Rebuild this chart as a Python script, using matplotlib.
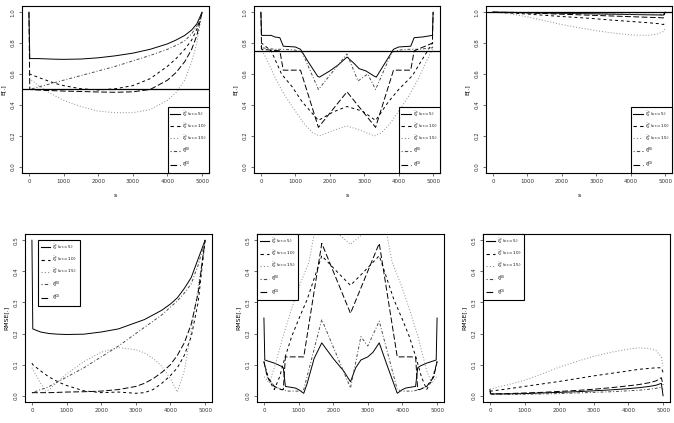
import matplotlib
matplotlib.use("Agg")
import matplotlib.pyplot as plt
from matplotlib.lines import Line2D

# ---------------- data ----------------
labels = [r"$\hat{\xi}^{s}_{t}$ ($\nu_s=5$)", r"$\hat{\xi}^{s}_{t}$ ($\nu_s=10$)",
          r"$\hat{\xi}^{s}_{t}$ ($\nu_s=15$)", r"$\xi^{RU}_{t}$", r"$\xi^{KU}_{t}$"]

# panel 1 : E[.] , reference 0.5
s1 = [0, 25, 250, 500, 750, 1000, 1500, 2000, 2500, 3000, 3500, 4000, 4250, 4500, 4700, 4850, 5000]
e1_nu5 = [1.0, 0.70, 0.70, 0.698, 0.696, 0.695, 0.697, 0.705, 0.718, 0.735, 0.76, 0.795, 0.82, 0.85, 0.885, 0.925, 1.0]
e1_nu10 = [0.60, 0.60, 0.58, 0.56, 0.54, 0.525, 0.505, 0.497, 0.505, 0.525, 0.57, 0.65, 0.70, 0.76, 0.82, 0.89, 1.0]
e1_nu15 = [0.57, 0.57, 0.53, 0.49, 0.46, 0.43, 0.39, 0.36, 0.35, 0.35, 0.37, 0.43, 0.48, 0.56, 0.68, 0.80, 1.0]
e1_ru = [0.50, 0.50, 0.515, 0.53, 0.545, 0.56, 0.59, 0.62, 0.65, 0.685, 0.72, 0.76, 0.785, 0.815, 0.86, 0.91, 1.0]
e1_ku = [1.0, 0.50, 0.497, 0.494, 0.492, 0.49, 0.487, 0.484, 0.482, 0.485, 0.50, 0.56, 0.61, 0.68, 0.76, 0.85, 1.0]
ref1 = 0.5

# panel 2 : E[.] , reference 0.75
s2_nu5 = [0, 20, 300, 400, 550, 650, 1000, 1150, 1400, 1650, 1700, 2000, 2250, 2500, 2700, 2850, 3050,
          3300, 3350, 3600, 3850, 4000, 4350, 4450, 4700, 4980, 5000]
e2_nu5 = [1.0, 0.85, 0.85, 0.84, 0.835, 0.78, 0.775, 0.76, 0.67, 0.585, 0.58, 0.62, 0.66, 0.71, 0.67, 0.635,
          0.62, 0.585, 0.58, 0.67, 0.76, 0.775, 0.78, 0.835, 0.84, 0.85, 1.0]
s2_nu10 = [0, 20, 300, 600, 900, 1200, 1670, 2100, 2500, 2800, 2950, 3330, 3700, 4000, 4400, 4700, 4980, 5000]
e2_nu10 = [0.80, 0.80, 0.75, 0.60, 0.52, 0.42, 0.30, 0.355, 0.39, 0.37, 0.36, 0.30, 0.42, 0.50, 0.59, 0.70, 0.80, 0.80]
s2_nu15 = [0, 20, 200, 450, 700, 1000, 1250, 1500, 1700, 2100, 2500, 2900, 3300, 3500, 3750, 4000, 4300, 4550, 4800, 4980, 5000]
e2_nu15 = [0.77, 0.76, 0.68, 0.56, 0.46, 0.36, 0.28, 0.22, 0.20, 0.235, 0.265, 0.235, 0.20, 0.22, 0.28, 0.36, 0.46, 0.56, 0.68, 0.76, 0.77]
s2_ru = [0, 20, 400, 700, 1000, 1200, 1670, 2500, 2820, 3100, 3330, 3800, 4000, 4300, 4600, 4980, 5000]
e2_ru = [0.78, 0.77, 0.76, 0.76, 0.755, 0.74, 0.50, 0.73, 0.555, 0.60, 0.50, 0.74, 0.755, 0.76, 0.76, 0.77, 0.78]
s2_ku = [0, 20, 550, 650, 1150, 1670, 2500, 3330, 3850, 4350, 4450, 4980, 5000]
e2_ku = [1.0, 0.76, 0.75, 0.625, 0.625, 0.255, 0.485, 0.255, 0.625, 0.625, 0.75, 0.80, 1.0]
ref2 = 0.75

# panel 3 : E[.] , reference 1.0
s3 = [0, 500, 1000, 1500, 2000, 2500, 3000, 3500, 4000, 4500, 4800, 4950, 5000]
e3_nu5 = [1.0, 0.999, 0.997, 0.995, 0.993, 0.991, 0.989, 0.987, 0.985, 0.983, 0.982, 0.981, 1.0]
e3_nu10 = [1.0, 0.995, 0.988, 0.98, 0.972, 0.965, 0.957, 0.948, 0.94, 0.932, 0.926, 0.92, 0.93]
e3_nu15 = [1.0, 0.99, 0.97, 0.945, 0.92, 0.90, 0.88, 0.865, 0.853, 0.85, 0.86, 0.875, 0.89]
e3_ru = [1.0, 0.999, 0.998, 0.996, 0.994, 0.992, 0.99, 0.988, 0.987, 0.986, 0.985, 0.985, 1.0]
e3_ku = [1.0, 0.998, 0.995, 0.991, 0.987, 0.983, 0.979, 0.975, 0.971, 0.967, 0.965, 0.963, 1.0]
ref3 = 1.0

# panel 4 : RMSE[.]
s4 = [0, 25, 250, 400, 500, 750, 1000, 1500, 2000, 2500, 3000, 3250, 3500, 3750, 4000, 4200, 4400, 4600, 4800, 5000]
r4_nu5 = [0.5, 0.215, 0.205, 0.202, 0.20, 0.198, 0.197, 0.198, 0.205, 0.215, 0.235, 0.245, 0.26, 0.275, 0.295, 0.315, 0.345, 0.38, 0.44, 0.5]
r4_nu10 = [0.105, 0.10, 0.08, 0.068, 0.06, 0.045, 0.033, 0.016, 0.01, 0.012, 0.008, 0.01, 0.02, 0.04, 0.065, 0.09, 0.13, 0.19, 0.30, 0.5]
r4_nu15 = [0.09, 0.085, 0.04, 0.015, 0.02, 0.045, 0.07, 0.11, 0.14, 0.155, 0.148, 0.138, 0.12, 0.095, 0.055, 0.012, 0.08, 0.21, 0.35, 0.5]
r4_ru = [0.01, 0.01, 0.02, 0.025, 0.03, 0.045, 0.06, 0.09, 0.125, 0.16, 0.20, 0.22, 0.24, 0.26, 0.285, 0.305, 0.33, 0.36, 0.42, 0.5]
r4_ku = [0.01, 0.01, 0.01, 0.01, 0.01, 0.011, 0.012, 0.013, 0.015, 0.02, 0.03, 0.04, 0.055, 0.075, 0.10, 0.13, 0.17, 0.23, 0.33, 0.5]

# panel 5 : RMSE[.]
s5_nu5 = [0, 25, 300, 500, 560, 620, 900, 1000, 1150, 1250, 1450, 1670, 2000, 2300, 2500, 2650, 2800, 3000,
          3150, 3330, 3550, 3850, 4000, 4100, 4380, 4440, 4500, 4700, 4975, 5000]
r5_nu5 = [0.25, 0.115, 0.105, 0.095, 0.09, 0.03, 0.025, 0.02, 0.008, 0.04, 0.12, 0.17, 0.12, 0.08, 0.045, 0.09,
          0.115, 0.125, 0.14, 0.17, 0.10, 0.008, 0.02, 0.025, 0.03, 0.09, 0.095, 0.105, 0.115, 0.25]
s5_nu10 = [0, 20, 150, 300, 450, 600, 800, 1000, 1250, 1670, 2100, 2500, 2900, 3330, 3750, 4000, 4200, 4400, 4550, 4700, 4850, 4980, 5000]
r5_nu10 = [0.11, 0.10, 0.05, 0.02, 0.06, 0.12, 0.19, 0.245, 0.31, 0.45, 0.40, 0.355, 0.40, 0.45, 0.31, 0.245, 0.19, 0.12, 0.06, 0.02, 0.05, 0.10, 0.11]
s5_nu15 = [0, 20, 150, 300, 550, 800, 1050, 1300, 1450, 1700, 2000, 2150, 2500, 2850, 3000, 3300, 3550, 3700, 3950, 4200, 4450, 4700, 4850, 4980, 5000]
r5_nu15 = [0.06, 0.06, 0.04, 0.09, 0.19, 0.28, 0.36, 0.43, 0.52, 0.58, 0.56, 0.52, 0.487, 0.52, 0.56, 0.58, 0.52, 0.43, 0.36, 0.28, 0.19, 0.08, 0.04, 0.06, 0.06]
s5_ru = [0, 100, 300, 500, 700, 1000, 1150, 1670, 2500, 2800, 3000, 3330, 3850, 4000, 4300, 4500, 4700, 4900, 5000]
r5_ru = [0.11, 0.06, 0.03, 0.02, 0.015, 0.015, 0.02, 0.245, 0.025, 0.19, 0.16, 0.24, 0.02, 0.015, 0.015, 0.02, 0.03, 0.06, 0.11]
s5_ku = [0, 100, 300, 500, 560, 620, 1150, 1670, 2500, 3330, 3850, 4380, 4440, 4500, 4700, 4900, 5000]
r5_ku = [0.11, 0.06, 0.03, 0.02, 0.02, 0.125, 0.125, 0.49, 0.265, 0.49, 0.125, 0.125, 0.02, 0.02, 0.03, 0.06, 0.11]

# panel 6 : RMSE[.]
s6 = [0, 25, 500, 1000, 1500, 2000, 2500, 3000, 3500, 4000, 4300, 4600, 4800, 4950, 5000]
r6_nu5 = [0.02, 0.006, 0.006, 0.007, 0.009, 0.011, 0.013, 0.016, 0.019, 0.023, 0.026, 0.03, 0.034, 0.04, 0.0]
r6_nu10 = [0.015, 0.015, 0.022, 0.03, 0.038, 0.046, 0.055, 0.064, 0.072, 0.08, 0.085, 0.088, 0.09, 0.09, 0.075]
r6_nu15 = [0.022, 0.022, 0.035, 0.05, 0.07, 0.092, 0.11, 0.127, 0.14, 0.15, 0.154, 0.152, 0.145, 0.125, 0.095]
r6_ru = [0.01, 0.004, 0.004, 0.005, 0.006, 0.007, 0.009, 0.011, 0.013, 0.016, 0.018, 0.021, 0.024, 0.028, 0.02]
r6_ku = [0.015, 0.006, 0.007, 0.009, 0.011, 0.014, 0.017, 0.021, 0.026, 0.032, 0.036, 0.042, 0.048, 0.058, 0.035]

# R lty 1..5
styles = [
    dict(color="black", linestyle="-"),
    dict(color="black", linestyle=(0, (3, 3))),
    dict(color="#8c8c8c", linestyle=(0, (1, 2))),
    dict(color="#4d4d4d", linestyle=(0, (1, 2, 3, 2))),
    dict(color="black", linestyle=(0, (6, 2.5))),
]


def draw_panel(ax, curves, ylim, yticks, ylabel, xlabel, ref=None):
    for (s, v), st in zip(curves, styles):
        ax.plot(s, v, linewidth=0.7, **st)
    if ref is not None:
        ax.axhline(ref, color="black", linewidth=0.9)
    ax.set_xlim(-200, 5200)
    ax.set_ylim(*ylim)
    ax.set_xticks([0, 1000, 2000, 3000, 4000, 5000])
    ax.set_yticks(yticks)
    ax.set_yticklabels([f"{t:.1f}" for t in yticks], rotation=90, va="center")
    ax.tick_params(labelsize=4, length=2.5, width=0.5, pad=2, colors="#333333")
    for sp in ax.spines.values():
        sp.set_linewidth(0.8)
    ax.set_ylabel(ylabel, fontsize=4.5, labelpad=4)
    if xlabel:
        ax.set_xlabel(xlabel, fontsize=4.5, labelpad=6)


def add_legend(ax, **kw):
    handles = [Line2D([], [], linewidth=0.8, **st) for st in styles]
    leg = ax.legend(handles, labels, fontsize=3.0, fancybox=False, edgecolor="black",
                    framealpha=1, handlelength=2.2, labelspacing=0.75, borderpad=0.7,
                    handletextpad=0.5, **kw)
    leg.get_frame().set_linewidth(0.8)


fig = plt.figure(figsize=(6.74, 4.23), dpi=100)
W, H = 674, 423


def add_axes(x0, x1, y0, y1):
    return fig.add_axes([x0 / W, 1 - y1 / H, (x1 - x0) / W, (y1 - y0) / H])


top_ylim = (-0.04, 1.04)
top_ticks = [0.0, 0.2, 0.4, 0.6, 0.8, 1.0]
bot_ylim = (-0.02, 0.52)
bot_ticks = [0.0, 0.1, 0.2, 0.3, 0.4, 0.5]

ax1 = add_axes(22, 209, 6, 173)
draw_panel(ax1, [(s1, e1_nu5), (s1, e1_nu10), (s1, e1_nu15), (s1, e1_ru), (s1, e1_ku)],
           top_ylim, top_ticks, "E[.]", "s", ref1)
add_legend(ax1, loc="lower right", borderaxespad=0)

ax2 = add_axes(254, 440, 6, 173)
draw_panel(ax2, [(s2_nu5, e2_nu5), (s2_nu10, e2_nu10), (s2_nu15, e2_nu15), (s2_ru, e2_ru), (s2_ku, e2_ku)],
           top_ylim, top_ticks, "E[.]", "s", ref2)
add_legend(ax2, loc="lower right", borderaxespad=0)

ax3 = add_axes(486, 672, 6, 173)
draw_panel(ax3, [(s3, e3_nu5), (s3, e3_nu10), (s3, e3_nu15), (s3, e3_ru), (s3, e3_ku)],
           top_ylim, top_ticks, "E[.]", "s", ref3)
add_legend(ax3, loc="lower right", borderaxespad=0)

ax4 = add_axes(25, 212, 234, 402)
draw_panel(ax4, [(s4, r4_nu5), (s4, r4_nu10), (s4, r4_nu15), (s4, r4_ru), (s4, r4_ku)],
           bot_ylim, bot_ticks, "RMSE[.]", None)
add_legend(ax4, loc="upper left", bbox_to_anchor=(0.07, 0.965), borderaxespad=0)

ax5 = add_axes(257, 444, 234, 402)
draw_panel(ax5, [(s5_nu5, r5_nu5), (s5_nu10, r5_nu10), (s5_nu15, r5_nu15), (s5_ru, r5_ru), (s5_ku, r5_ku)],
           bot_ylim, bot_ticks, "RMSE[.]", None)
add_legend(ax5, loc="upper left", borderaxespad=0)

ax6 = add_axes(483, 670, 234, 402)
draw_panel(ax6, [(s6, r6_nu5), (s6, r6_nu10), (s6, r6_nu15), (s6, r6_ru), (s6, r6_ku)],
           bot_ylim, bot_ticks, "RMSE[.]", None)
add_legend(ax6, loc="upper left", borderaxespad=0)

fig.savefig("out.png", dpi=100)
